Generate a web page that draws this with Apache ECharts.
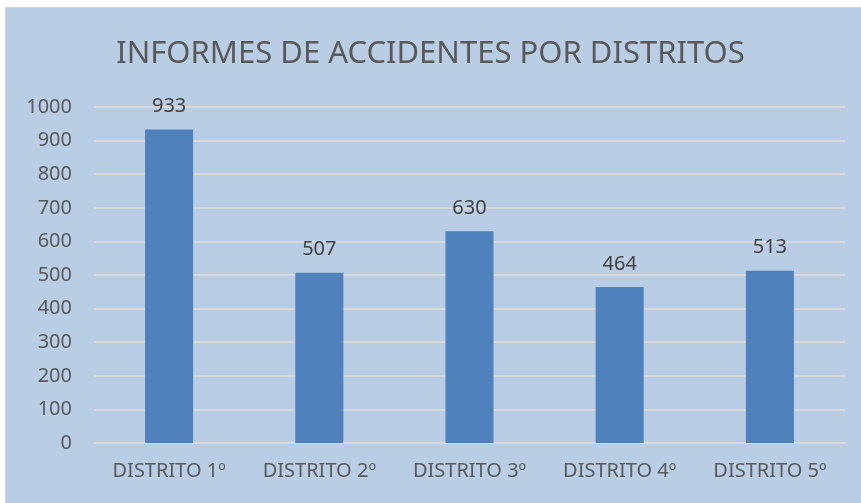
<!DOCTYPE html>
<html>
<head>
	<meta charset="UTF-8">
	<title></title>
	<script type="text/javascript" src="https://cdn.jsdelivr.net/npm/echarts@6/dist/echarts.min.js"></script>
	<style>
		html, body { margin:0; padding:0; background:#fff; }
		#chart { width:861px; height:503px; }
	</style>
</head>
<body>
<div id="chart"></div>
<script>
	// datos
	var categorias = ['DISTRITO 1º', 'DISTRITO 2º', 'DISTRITO 3º', 'DISTRITO 4º', 'DISTRITO 5º'];
	var informes = [933, 507, 630, 464, 513];
	var titulo = 'INFORMES DE ACCIDENTES POR DISTRITOS';

	var myChart = echarts.init(document.getElementById('chart'));
	var option = {
		animation: false,
		textStyle: { fontFamily: 'Noto Sans' },
		graphic: [{
			type: 'rect',
			z: -10,
			shape: { x: 5.5, y: 7.5, width: 870, height: 510 },
			style: { fill: '#b9cde5', stroke: '#d4d4d4', lineWidth: 1 }
		}],
		title: {
			text: titulo,
			left: 'center',
			top: 34,
			textStyle: { fontSize: 31, fontWeight: 'normal', color: '#595959', fontFamily: 'Noto Sans' }
		},
		grid: { left: 94, right: 16, top: 107, bottom: 60 },
		xAxis: {
			type: 'category',
			data: categorias,
			axisLine: { show: true, lineStyle: { color: '#d9d9d9', width: 2 } },
			axisTick: { show: false },
			axisLabel: { fontSize: 20, color: '#595959', margin: 18 }
		},
		yAxis: {
			type: 'value',
			min: 0,
			max: 1000,
			interval: 100,
			axisLine: { show: false },
			axisTick: { show: false },
			axisLabel: { fontSize: 20, color: '#595959', margin: 22, formatter: function (v) { return String(v); } },
			splitLine: { lineStyle: { color: '#d9d9d9', width: 2 } }
		},
		series: [{
			type: 'bar',
			data: informes,
			barWidth: '32%',
			itemStyle: { color: '#4f81bd' },
			label: { show: true, position: 'top', distance: 13, fontSize: 20, color: '#404040' }
		}]
	};
	myChart.setOption(option);
</script>
</body>
</html>
